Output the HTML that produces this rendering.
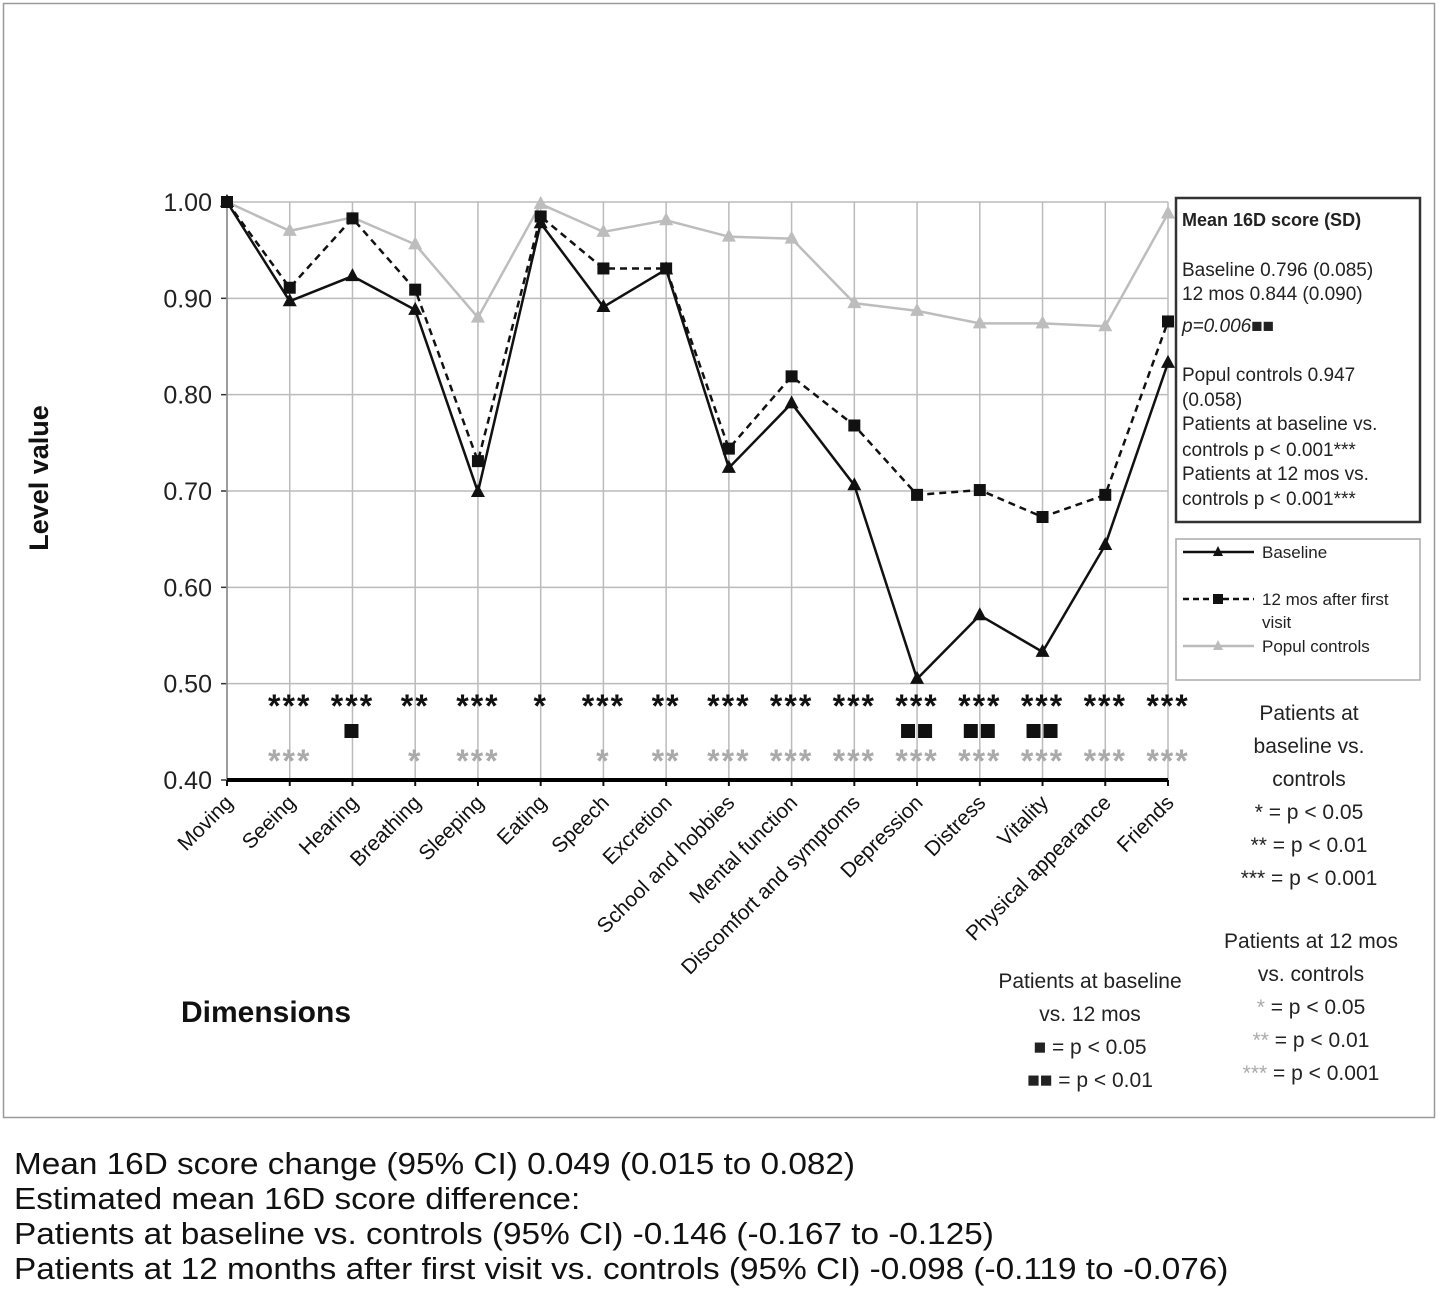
<!DOCTYPE html>
<html><head><meta charset="utf-8"><style>
body{margin:0;background:#fff;font-family:"Liberation Sans",Arial,sans-serif;}
#wrap{position:relative;width:1439px;height:1298px;overflow:hidden;}
.t{position:absolute;white-space:nowrap;}
</style></head><body>
<div id="wrap">
<svg id="chart" width="1439" height="1298" style="position:absolute;left:0;top:0"></svg>
<div class="t" style="left:14px;top:1146px;font-size:31px;line-height:35px;color:#111;transform:scaleX(1.075);transform-origin:0 0">Mean 16D score change (95% CI) 0.049 (0.015 to 0.082)<br>Estimated mean 16D score difference:<br>Patients at baseline vs. controls (95% CI) -0.146 (-0.167 to -0.125)<br>Patients at 12 months after first visit vs. controls (95% CI) -0.098 (-0.119 to -0.076)</div>
</div>
<script>
const categories=["Moving","Seeing","Hearing","Breathing","Sleeping","Eating","Speech","Excretion","School and hobbies","Mental function","Discomfort and symptoms","Depression","Distress","Vitality","Physical appearance","Friends"];
const baseline=[1.00,0.897,0.923,0.888,0.699,0.978,0.891,0.930,0.724,0.791,0.706,0.505,0.571,0.533,0.644,0.833];
const months12=[1.00,0.911,0.983,0.909,0.731,0.985,0.931,0.931,0.744,0.819,0.768,0.696,0.701,0.673,0.696,0.876];
const controls=[1.00,0.970,0.984,0.956,0.880,0.998,0.969,0.981,0.964,0.962,0.895,0.887,0.874,0.874,0.871,0.988];
const yTicks=[0.40,0.50,0.60,0.70,0.80,0.90,1.00];
const sigBaseCtrl=["","***","***","**","***","*","***","**","***","***","***","***","***","***","***","***"];
const sig12Ctrl=["","***","","*","***","","*","**","***","***","***","***","***","***","***","***"];
const sigBase12=[0,0,1,0,0,0,0,0,0,0,0,2,2,2,0,0];

const NS="http://www.w3.org/2000/svg";
const svg=document.getElementById('chart');
const X0=227,X1=1168,Y0=780,Y1=202;
const x=i=>X0+i*(X1-X0)/(categories.length-1);
const y=v=>Y0-(v-0.4)/(0.6)*(Y0-Y1);
function el(tag,attrs,parent){const e=document.createElementNS(NS,tag);for(const k in attrs)e.setAttribute(k,attrs[k]);(parent||svg).appendChild(e);return e;}
let b=el('rect',{x:3.5,y:3.5,width:1431,height:1114,fill:'none',stroke:'#999','stroke-width':1.5});


yTicks.forEach(t=>{
 const l=el('line',{x1:X0,x2:X1,y1:y(t),y2:y(t),stroke:'#bbb','stroke-width':1.5});
 
 
 const tx=el('text',{x:212,y:y(t)+9,'text-anchor':'end','font-size':25,fill:'#222'});
 tx.textContent=t.toFixed(2);
 
 
 el('line',{x1:X0-6,x2:X0,y1:y(t),y2:y(t),stroke:'#333','stroke-width':1.5});
});
categories.forEach((c,i)=>{
 const l=el('line',{x1:x(i),x2:x(i),y1:Y1,y2:Y0,stroke:'#bbb','stroke-width':1.5});
 
 
 el('line',{x1:x(i),x2:x(i),y1:Y0,y2:Y0+6,stroke:'#111','stroke-width':2});
 const tx=el('text',{x:x(i)+7,y:Y0+24,'text-anchor':'end','font-size':21,fill:'#111',transform:`rotate(-45 ${x(i)+7} ${Y0+24})`});
 tx.textContent=c;
 
 
});
el('line',{x1:X0,x2:X0,y1:Y1,y2:Y0,stroke:'#888','stroke-width':1.5});
let ax=el('line',{x1:X0,x2:X1,y1:Y0,y2:Y0,stroke:'#000','stroke-width':4});


function series(vals,color,dash,marker,name){
 const g=el('g',{});
 
 
 el('polyline',{points:vals.map((v,i)=>x(i)+','+y(v)).join(' '),fill:'none',stroke:color,'stroke-width':2.5,'stroke-dasharray':dash||'none'},g);
 vals.forEach((v,i)=>{
  let m;
  if(marker==='tri') m=el('polygon',{points:`${x(i)},${y(v)-8} ${x(i)-7},${y(v)+5} ${x(i)+7},${y(v)+5}`,fill:color},g);
  else m=el('rect',{x:x(i)-6,y:y(v)-6,width:12,height:12,fill:color},g);
  
  
 });
}
series(controls,'#bdbdbd',null,'tri','series-controls');
series(months12,'#111','7,5','sq','series-12mos');
series(baseline,'#111',null,'tri','series-baseline');
categories.forEach((c,i)=>{
 if(sigBaseCtrl[i]){const t=el('text',{x:x(i),y:717,'text-anchor':'middle','font-size':32,'font-weight':'bold',fill:'#111','letter-spacing':2});t.textContent=sigBaseCtrl[i];
  
  }
 if(sig12Ctrl[i]){const t=el('text',{x:x(i),y:772,'text-anchor':'middle','font-size':32,'font-weight':'bold',fill:'#aaa','letter-spacing':2});t.textContent=sig12Ctrl[i];
  
  }
 const n=sigBase12[i];
 for(let k=0;k<n;k++){const r=el('rect',{x:x(i)-n*8+k*17,y:724,width:14,height:14,fill:'#111'});
  
  }
});
let yt=el('text',{x:48,y:478,'text-anchor':'middle','font-size':27,'font-weight':'bold',fill:'#111',transform:'rotate(-90 48 478)'});
yt.textContent='Level value';


let xt=el('text',{x:266,y:1022,'text-anchor':'middle','font-size':30,'font-weight':'bold',fill:'#111'});
xt.textContent='Dimensions';


let mb=el('rect',{x:1176,y:198,width:244,height:324,fill:'#fff',stroke:'#333','stroke-width':2.5});


const mlines=[["Mean 16D score (SD)",226,'bold'],["Baseline 0.796 (0.085)",276],["12 mos 0.844 (0.090)",300],["p=0.006■■",332,'it'],["Popul controls 0.947",381],["(0.058)",406],["Patients at baseline vs.",430],["controls p < 0.001***",456],["Patients at 12 mos vs.",480],["controls p < 0.001***",505]];
mlines.forEach(m=>{const t=el('text',{x:1182,y:m[1],'font-size':m[2]==='bold'?18:19,'font-weight':m[2]==='bold'?'bold':'normal','font-style':m[2]==='it'?'italic':'normal',fill:'#222'});t.textContent=m[0];
 
 });
let lg=el('g',{});


el('rect',{x:1176,y:539,width:244,height:141,fill:'#fff',stroke:'#aaa','stroke-width':1.5},lg);
[["Baseline",552,'#111',null,'tri'],["12 mos after  first",599,'#111','6,4','sq'],["Popul controls",646,'#bbb',null,'tri']].forEach(L=>{
 el('line',{x1:1183,x2:1254,y1:L[1],y2:L[1],stroke:L[2],'stroke-width':2.5,'stroke-dasharray':L[3]||'none'},lg);
 if(L[4]==='tri')el('polygon',{points:`1218,${L[1]-6} 1213,${L[1]+4} 1223,${L[1]+4}`,fill:L[2]},lg);else el('rect',{x:1213,y:L[1]-5,width:10,height:10,fill:L[2]},lg);
 const t=el('text',{x:1262,y:L[1]+6,'font-size':17,fill:'#222'},lg);t.textContent=L[0];
 
 
});
let vt=el('text',{x:1262,y:628,'font-size':17,fill:'#222'},lg);vt.textContent='visit';
function key(lines,cx,y0,name){lines.forEach((l,k)=>{const t=el('text',{x:cx,y:y0+k*33,'text-anchor':'middle','font-size':21,fill:'#222'});
 if(l[1]){const s=el('tspan',{fill:'#aaa'},t);s.textContent=l[1];const r=el('tspan',{},t);r.textContent=l[0];}else t.textContent=l[0];
 
 });}
key([["Patients at"],["baseline vs."],["controls"],["* = p < 0.05"],["** = p < 0.01"],["*** = p < 0.001"]],1309,720,'key-baseline-controls');
key([["Patients at 12 mos"],["vs. controls"],[" = p < 0.05","*"],[" = p < 0.01","**"],[" = p < 0.001","***"]],1311,948,'key-12mos-controls');
key([["Patients at baseline"],["vs. 12 mos"],["■ = p < 0.05"],["■■ = p < 0.01"]],1090,988,'key-baseline-12mos');
</script>
</body></html>
